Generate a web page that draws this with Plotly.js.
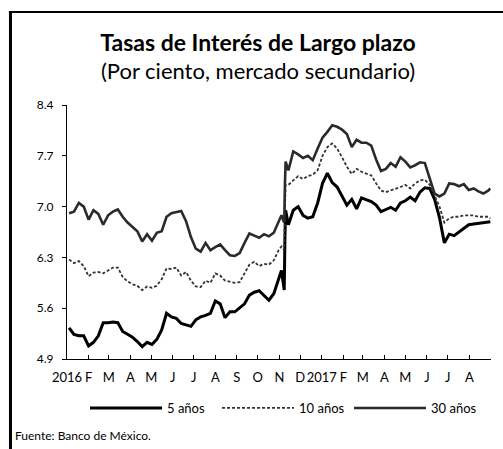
<!DOCTYPE html>
<html>
<head>
<meta charset="utf-8">
<script src="https://cdn.plot.ly/plotly-3.0.1.min.js"></script>
<style>
html,body{margin:0;padding:0;background:#fff;}
#chart{width:503px;height:449px;}
</style>
</head>
<body>
<div id="chart"></div>
<script>
const dates = [
"2016-01-04","2016-01-11","2016-01-18","2016-01-25","2016-02-01","2016-02-08","2016-02-15","2016-02-22","2016-02-29","2016-03-07",
"2016-03-14","2016-03-21","2016-03-28","2016-04-04","2016-04-11","2016-04-18","2016-04-25","2016-05-02","2016-05-09","2016-05-16",
"2016-05-23","2016-05-30","2016-06-06","2016-06-13","2016-06-20","2016-06-27","2016-07-04","2016-07-11","2016-07-18","2016-07-25",
"2016-08-01","2016-08-08","2016-08-15","2016-08-22","2016-08-29","2016-09-05","2016-09-12","2016-09-19","2016-09-26","2016-10-03",
"2016-10-10","2016-10-17","2016-10-24","2016-10-31","2016-11-04","2016-11-07","2016-11-08","2016-11-09","2016-11-10","2016-11-14",
"2016-11-21","2016-11-28","2016-12-05","2016-12-12","2016-12-19","2016-12-26","2017-01-02","2017-01-09","2017-01-16","2017-01-23",
"2017-01-30","2017-02-06","2017-02-13","2017-02-20","2017-02-27","2017-03-06","2017-03-13","2017-03-20","2017-03-27","2017-04-03",
"2017-04-10","2017-04-17","2017-04-24","2017-05-01","2017-05-08","2017-05-15","2017-05-22","2017-05-29","2017-06-05","2017-06-12",
"2017-06-19","2017-06-26","2017-07-03","2017-07-10","2017-07-17","2017-07-24","2017-07-31","2017-08-07","2017-08-14","2017-08-21",
"2017-08-28","2017-08-31"
];
const y5 = [
5.33,5.24,5.22,5.22,5.08,5.13,5.22,5.40,5.40,5.41,
5.40,5.28,5.24,5.20,5.14,5.07,5.13,5.10,5.17,5.30,
5.53,5.48,5.46,5.39,5.37,5.35,5.44,5.48,5.50,5.53,
5.70,5.66,5.47,5.55,5.55,5.60,5.66,5.78,5.82,5.84,
5.77,5.71,5.80,6.00,6.12,5.92,5.85,6.55,6.95,6.75,
6.95,7.00,6.88,6.84,6.86,7.05,7.32,7.46,7.33,7.27,
7.15,7.02,7.10,6.97,7.12,7.10,7.07,7.02,6.93,6.96,
6.99,6.95,7.05,7.08,7.13,7.08,7.20,7.26,7.25,7.10,
6.85,6.50,6.62,6.60,6.65,6.70,6.75,6.76,6.77,6.77,
6.78,6.79
];
const y10 = [
6.27,6.22,6.25,6.18,6.04,6.09,6.10,6.08,6.12,6.16,
6.16,6.03,5.97,5.93,5.91,5.85,5.90,5.88,5.91,6.00,
6.15,6.14,6.16,6.05,6.10,5.98,5.90,5.89,5.98,5.95,
6.08,6.05,5.98,5.97,5.95,5.96,6.08,6.20,6.24,6.18,
6.21,6.20,6.26,6.40,6.45,6.42,6.40,6.95,7.30,7.30,
7.36,7.42,7.38,7.42,7.44,7.50,7.70,7.82,7.87,7.80,
7.68,7.55,7.45,7.52,7.48,7.46,7.43,7.32,7.22,7.20,
7.22,7.25,7.27,7.30,7.25,7.32,7.36,7.37,7.30,7.15,
7.00,6.78,6.84,6.86,6.86,6.88,6.88,6.88,6.86,6.86,
6.86,6.84
];
const y30 = [
6.91,6.93,7.05,7.00,6.82,6.95,6.90,6.75,6.88,6.93,
6.96,6.86,6.78,6.72,6.66,6.52,6.62,6.53,6.64,6.66,
6.86,6.91,6.92,6.94,6.80,6.58,6.42,6.38,6.50,6.40,
6.44,6.48,6.40,6.33,6.32,6.36,6.50,6.63,6.60,6.57,
6.62,6.59,6.64,6.78,6.88,6.80,6.78,7.30,7.62,7.50,
7.76,7.72,7.67,7.70,7.64,7.80,7.95,8.03,8.12,8.10,
8.06,8.00,7.82,7.92,7.88,7.88,7.84,7.65,7.49,7.52,
7.60,7.55,7.68,7.62,7.54,7.57,7.61,7.60,7.40,7.18,
7.14,7.18,7.32,7.31,7.28,7.31,7.23,7.25,7.21,7.18,
7.22,7.25
];
const tickDates = ["2016-01-01","2016-02-01","2016-03-01","2016-04-01","2016-05-01","2016-06-01","2016-07-01","2016-08-01","2016-09-01","2016-10-01",
"2016-11-01","2016-12-01","2017-01-01","2017-02-01","2017-03-01","2017-04-01","2017-05-01","2017-06-01","2017-07-01","2017-08-01"];
const tickLabels = ["2016","F","M","A","M","J","J","A","S","O","N","D","2017","F","M","A","M","J","J","A"];
const yTicks = [4.9,5.6,6.3,7.0,7.7,8.4];
const seriesNames = ["5 años","10 años","30 años"];

const FONT = "Lato, 'Open Sans', sans-serif";
const traces = [
  {x: dates, y: y5, name: seriesNames[0], mode: "lines", line: {color: "#000", width: 3}},
  {x: dates, y: y10, name: seriesNames[1], mode: "lines", line: {color: "#333", width: 1.8, dash: "3px,2px"}},
  {x: dates, y: y30, name: seriesNames[2], mode: "lines", line: {color: "#2a2a2a", width: 2.6}}
];
const layout = {
  width: 503, height: 449,
  margin: {l: 67, r: 12, t: 105, b: 90},
  paper_bgcolor: "#fff", plot_bgcolor: "#fff",
  font: {family: FONT, color: "#000", size: 12},
  title: {
    text: "<span style='font-size:23px'><b>Tasas de Interés de Largo plazo</b></span><br>(Por ciento, mercado secundario)",
    font: {family: FONT, size: 22, color: "#000"},
    xref: "container", x: 0.513, xanchor: "center",
    yref: "container", y: 0.887, yanchor: "top"
  },
  xaxis: {
    type: "date", range: ["2016-01-01", "2017-09-01"],
    tickvals: tickDates, ticktext: tickLabels, tickangle: 0,
    ticks: "inside", ticklen: 4, tickcolor: "#000",
    showline: true, linecolor: "#000", linewidth: 1,
    showgrid: false, zeroline: false,
    tickfont: {family: FONT, size: 13, color: "#000"},
    ticklabelstandoff: 6
  },
  yaxis: {
    range: [4.9, 8.4], tickvals: yTicks, ticktext: yTicks.map(v => v.toFixed(1)),
    ticks: "outside", ticklen: 4, tickcolor: "#000",
    showline: true, linecolor: "#000", linewidth: 1,
    showgrid: false, zeroline: false,
    tickfont: {family: FONT, size: 12, color: "#000"},
    ticklabelstandoff: 6
  },
  showlegend: true,
  legend: {
    orientation: "h", x: 0.0425, xanchor: "left", y: -0.193, yanchor: "middle",
    font: {family: FONT, size: 13, color: "#000"},
    itemwidth: 72, entrywidth: 45, entrywidthmode: "pixels",
    bgcolor: "rgba(0,0,0,0)", tracegroupgap: 0
  },
  shapes: [
    {type: "line", xref: "paper", yref: "paper", x0: -0.1333, x1: -0.1333, y0: -0.36, y1: 1.368, line: {color: "#000", width: 3}},
    {type: "line", xref: "paper", yref: "paper", x0: -0.137, x1: 1.03, y0: 1.366, y1: 1.366, line: {color: "#000", width: 2}}
  ],
  annotations: [{
    text: "Fuente: Banco de México.", xref: "paper", yref: "paper",
    x: -0.127, y: -0.303, xanchor: "left", yanchor: "middle", showarrow: false,
    font: {family: FONT, size: 12, color: "#000"}
  }]
};
Plotly.newPlot("chart", traces, layout, {displayModeBar: false, staticPlot: true});
</script>
</body>
</html>
